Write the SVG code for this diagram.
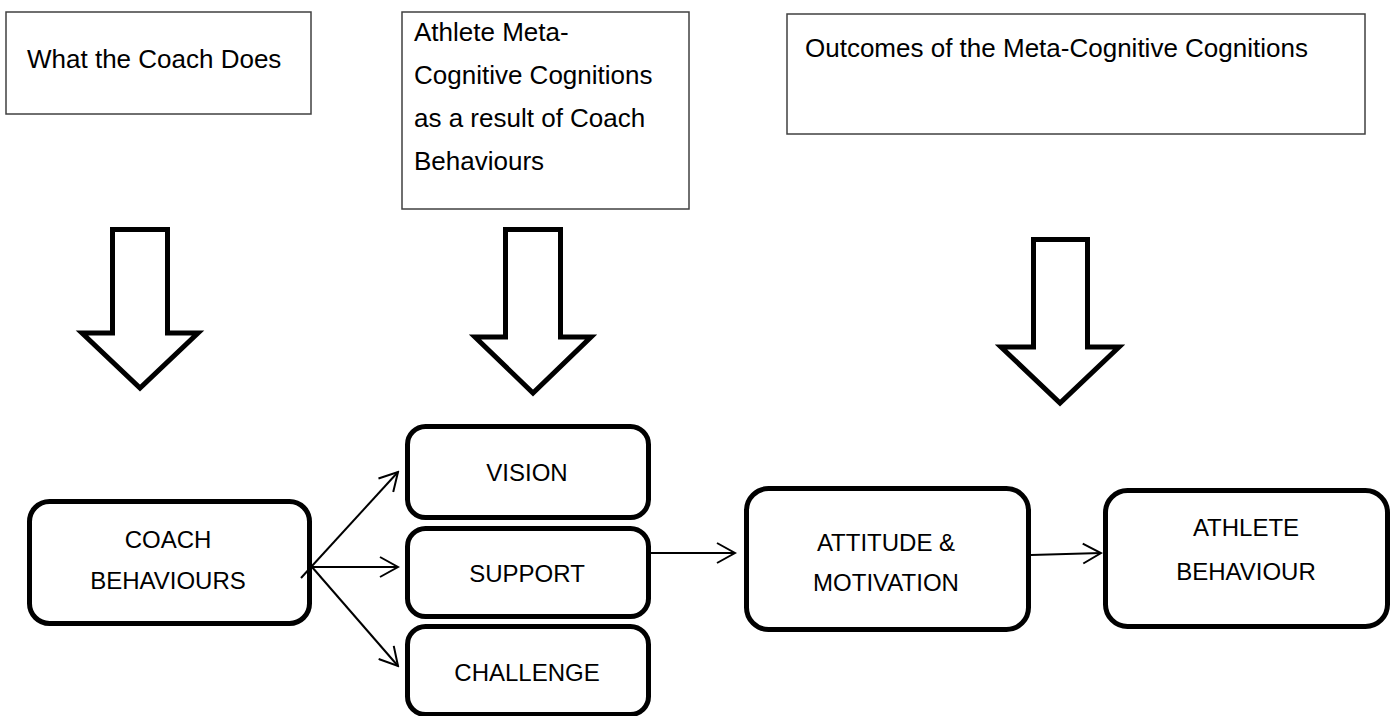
<svg xmlns="http://www.w3.org/2000/svg" width="1394" height="716" viewBox="0 0 1394 716">
  <style>
    .note { fill: #ffffff; stroke: #404040; stroke-width: 1.5; }
    .note-text { font-family: "Liberation Sans", Arial, sans-serif; font-size: 26px; fill: #000000; }
    .block { fill: #ffffff; stroke: #000000; stroke-width: 5; stroke-linejoin: miter; }
    .node { fill: #ffffff; stroke: #000000; stroke-width: 5; }
    .label { font-family: "Liberation Sans", Arial, sans-serif; font-size: 24px; fill: #000000; text-anchor: middle; }
    .link { fill: none; stroke: #000000; stroke-width: 2; }
  </style>
  <defs>
    <marker id="open-arrow" viewBox="0 0 22 22" refX="20" refY="11" markerWidth="22" markerHeight="22" markerUnits="userSpaceOnUse" orient="auto">
      <path d="M2,1 L20,11 L2,21" fill="none" stroke="#000000" stroke-width="2"/>
    </marker>
  </defs>
  <rect width="1394" height="716" fill="#ffffff"/>

  <!-- column headings -->
  <g id="heading-coach">
    <rect class="note" x="6" y="12" width="305" height="102"/>
    <text class="note-text" x="27" y="68">What the Coach Does</text>
  </g>
  <g id="heading-cognitions">
    <rect class="note" x="402" y="12" width="287" height="197"/>
    <text class="note-text" x="414" y="41">Athlete Meta-</text>
    <text class="note-text" x="414" y="84">Cognitive Cognitions</text>
    <text class="note-text" x="414" y="127">as a result of Coach</text>
    <text class="note-text" x="414" y="170">Behaviours</text>
  </g>
  <g id="heading-outcomes">
    <rect class="note" x="787" y="14" width="578" height="120"/>
    <text class="note-text" x="805" y="57">Outcomes of the Meta-Cognitive Cognitions</text>
  </g>

  <!-- block arrows under the headings -->
  <g id="block-arrow-1">
    <polygon class="block" points="112.5,229.5 167.5,229.5 167.5,333 198,333 140,388 82,333 112.5,333"/>
  </g>
  <g id="block-arrow-2">
    <polygon class="block" points="505.5,229.5 560.5,229.5 560.5,337 591,337 533,393 475,337 505.5,337"/>
  </g>
  <g id="block-arrow-3">
    <polygon class="block" points="1033.5,239.5 1087.5,239.5 1087.5,347 1119,347 1060,403 1001,347 1033.5,347"/>
  </g>

  <!-- process nodes -->
  <g id="coach-behaviours">
    <rect class="node" x="29.5" y="501.5" width="280" height="122" rx="20"/>
    <text class="label" x="168" y="548">COACH</text>
    <text class="label" x="168" y="589">BEHAVIOURS</text>
  </g>
  <g id="vision">
    <rect class="node" x="407.5" y="426.5" width="241" height="91" rx="18"/>
    <text class="label" x="527" y="481">VISION</text>
  </g>
  <g id="support">
    <rect class="node" x="407.5" y="528.5" width="241" height="88" rx="18"/>
    <text class="label" x="527" y="582">SUPPORT</text>
  </g>
  <g id="challenge">
    <rect class="node" x="407.5" y="626.5" width="241" height="88" rx="18"/>
    <text class="label" x="527" y="681">CHALLENGE</text>
  </g>
  <g id="attitude-motivation">
    <rect class="node" x="746.5" y="488.5" width="282" height="141" rx="22"/>
    <text class="label" x="886" y="551">ATTITUDE &amp;</text>
    <text class="label" x="886" y="591">MOTIVATION</text>
  </g>
  <g id="athlete-behaviour">
    <rect class="node" x="1105.5" y="490.5" width="282" height="136" rx="22"/>
    <text class="label" x="1246" y="536">ATHLETE</text>
    <text class="label" x="1246" y="580">BEHAVIOUR</text>
  </g>

  <!-- connectors -->
  <g id="connectors">
    <line class="link" x1="301" y1="578" x2="398" y2="472" marker-end="url(#open-arrow)"/>
    <line class="link" x1="312" y1="567" x2="398" y2="567" marker-end="url(#open-arrow)"/>
    <line class="link" x1="312" y1="567" x2="398" y2="666" marker-end="url(#open-arrow)"/>
    <line class="link" x1="651" y1="553" x2="735" y2="553" marker-end="url(#open-arrow)"/>
    <line class="link" x1="1031" y1="555" x2="1101" y2="553" marker-end="url(#open-arrow)"/>
  </g>
</svg>
